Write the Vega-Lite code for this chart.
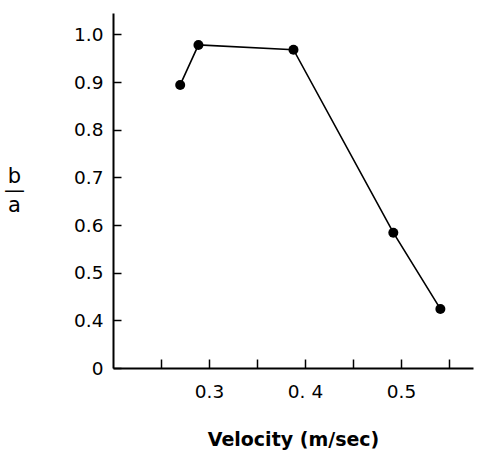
{
  "$schema": "https://vega.github.io/schema/vega-lite/v6.json",
  "width": 360,
  "height": 355,
  "autosize": {"type": "none"},
  "padding": {"left": 113, "top": 13, "right": 8, "bottom": 83},
  "background": "white",
  "config": {
    "view": {"stroke": null},
    "axis": {"grid": false, "domainColor": "black", "domainWidth": 2, "tickColor": "black", "tickWidth": 1.5, "labelColor": "black", "titleColor": "black", "labelFont": "DejaVu Sans", "titleFont": "DejaVu Sans", "labelFontSize": 18.5, "labelFontWeight": "normal"}
  },
  "data": {
    "values": [
      {"velocity": 0.270, "ratio": 0.894},
      {"velocity": 0.289, "ratio": 0.978},
      {"velocity": 0.388, "ratio": 0.968},
      {"velocity": 0.492, "ratio": 0.584},
      {"velocity": 0.541, "ratio": 0.424}
    ]
  },
  "encoding": {
    "x": {
      "field": "velocity", "type": "quantitative",
      "scale": {"domain": [0.2, 0.575], "nice": false, "zero": false},
      "axis": {
        "values": [0.25, 0.3, 0.35, 0.4, 0.45, 0.5, 0.55],
        "labelExpr": "abs(datum.value - 0.3) < 0.001 ? '0.3' : abs(datum.value - 0.4) < 0.001 ? '0. 4' : abs(datum.value - 0.5) < 0.001 ? '0.5' : ''",
        "tickSize": -9,
        "labelPadding": 23,
        "labelFlush": false,
        "title": "Velocity (m/sec)",
        "titleFontSize": 19,
        "titleFontWeight": "bold",
        "titlePadding": 30
      }
    },
    "y": {
      "field": "ratio", "type": "quantitative",
      "scale": {"domain": [0.3, 1.045], "nice": false, "zero": false},
      "axis": {
        "values": [0.3, 0.4, 0.5, 0.6, 0.7, 0.8, 0.9, 1.0],
        "labelExpr": "datum.value < 0.35 ? '0' : format(datum.value, '.1f')",
        "tickSize": -8,
        "labelPadding": 18,
        "labelFlush": false,
        "title": ["b", "—", "a"],
        "titleAngle": 0,
        "titleFontSize": 21,
        "titleFontWeight": "normal",
        "titleLineHeight": 14.5,
        "titleAlign": "center",
        "titleBaseline": "alphabetic",
        "titleX": -99,
        "titleY": 169
      }
    }
  },
  "layer": [
    {"mark": {"type": "line", "color": "black", "strokeWidth": 1.6}},
    {"mark": {"type": "point", "filled": true, "color": "black", "opacity": 1, "size": 100}}
  ]
}
